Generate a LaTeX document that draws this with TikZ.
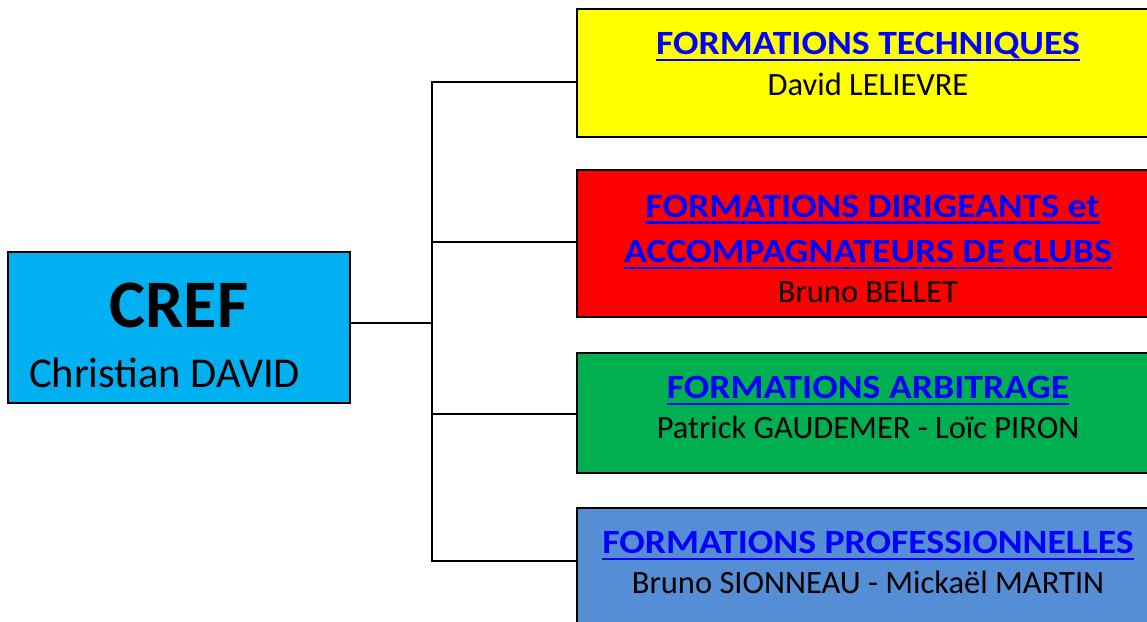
\documentclass[tikz,border=0pt]{standalone}
\usepackage{fontspec}
\setmainfont{Carlito}
\newfontfamily\headfont[FakeStretch=1.11]{Carlito}
\definecolor{crefblue}{HTML}{00B0F0}
\definecolor{techyellow}{HTML}{FFFF00}
\definecolor{dirred}{HTML}{FF0000}
\definecolor{arbgreen}{HTML}{00B050}
\definecolor{problue}{HTML}{558ED5}
\definecolor{linkblue}{HTML}{0000FF}
\begin{document}
\begin{tikzpicture}[x=1pt,y=-1pt,
  box/.style={draw=black,line width=1.6pt,anchor=north west,inner sep=0pt,outer sep=0pt},
  heading/.style={anchor=base,inner sep=0pt,text=linkblue,font=\headfont\fontsize{34}{40}\selectfont\bfseries},
  person/.style={anchor=base,inner sep=0pt,text=black,font=\fontsize{32.5}{40}\selectfont},
  conn/.style={line width=1.6pt,draw=black},
  uline/.style={line width=2.6pt,draw=linkblue}]
\useasboundingbox (0,0) rectangle (1147,621);
% boxes
\node[box,fill=crefblue,minimum width=342pt,minimum height=151pt] (cref) at (8,252) {};
\node[box,fill=techyellow,minimum width=590pt,minimum height=128pt] (tech) at (577,9) {};
\node[box,fill=dirred,minimum width=590pt,minimum height=147pt] (dir) at (577,170) {};
\node[box,fill=arbgreen,minimum width=590pt,minimum height=120pt] (arb) at (577,353) {};
\node[box,fill=problue,minimum width=590pt,minimum height=140pt] (pro) at (577,508) {};
% connectors
\coordinate (hub) at (432,323);
\coordinate (ttop) at (432,82);
\coordinate (tred) at (432,242);
\coordinate (tgreen) at (432,414);
\coordinate (tbot) at (432,561);
\draw[conn] (cref.east |- hub) -- (hub);
\draw[conn] (tech.west |- ttop) -- (ttop) -- (tbot) -- (pro.west |- tbot);
\draw[conn] (tred) -- (dir.west |- tred);
\draw[conn] (tgreen) -- (arb.west |- tgreen);
% CREF texts
\node[anchor=base,inner sep=0pt,font=\fontsize{68}{80}\selectfont\bfseries] (creft) at (179,327) {CREF};
\node[anchor=base west,inner sep=0pt,font=\fontsize{42.5}{48}\selectfont] (crefn) at (29,387) {Christian DAVID};
% tech
\node[heading] (h1) at (868,54) {FORMATIONS TECHNIQUES};
\draw[uline] ([yshift=-6pt]h1.base west) -- ([yshift=-6pt]h1.base east);
\node[person] (p1) at (868,95) {David LELIEVRE};
% dir
\node[heading] (h2a) at (872.5,217) {FORMATIONS DIRIGEANTS et\ };
\draw[uline] ([yshift=-5.5pt]h2a.base west) -- ([yshift=-5.5pt]h2a.base east);
\node[heading] (h2b) at (868,262) {ACCOMPAGNATEURS DE CLUBS};
\draw[uline] ([yshift=-6pt]h2b.base west) -- ([yshift=-6pt]h2b.base east);
\node[person] (p2) at (868,302) {Bruno BELLET};
% arb
\node[heading] (h3) at (868,398) {FORMATIONS ARBITRAGE};
\draw[uline] ([yshift=-6pt]h3.base west) -- ([yshift=-6pt]h3.base east);
\node[person] (p3) at (868,438) {Patrick GAUDEMER - Loïc PIRON};
% pro
\node[heading] (h4) at (868,553) {FORMATIONS PROFESSIONNELLES};
\draw[uline] ([yshift=-6pt]h4.base west) -- ([yshift=-6pt]h4.base east);
\node[person] (p4) at (868,593) {Bruno SIONNEAU - Mickaël MARTIN};
\end{tikzpicture}
\end{document}
